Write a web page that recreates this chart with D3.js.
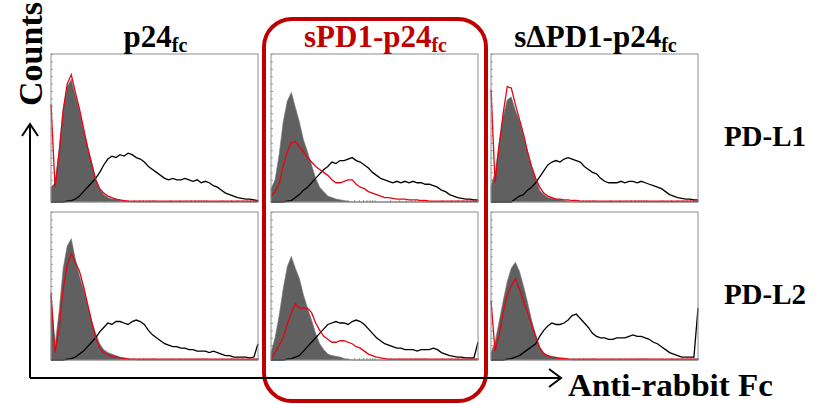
<!DOCTYPE html>
<html>
<head>
<meta charset="utf-8">
<script src="https://cdn.jsdelivr.net/npm/d3@7"></script>
<style>
    body { margin: 0; background: #fff; }
    svg { display: block; }
    text { font-family: "Liberation Serif", "Times New Roman", serif; font-weight: bold; }
</style>
</head>
<body>
<svg id="chart" width="829" height="404"></svg>
<script>
// column titles (main part, subscript) and row labels
const columns = [["p24", "fc"], ["sPD1-p24", "fc"], ["s\u0394PD1-p24", "fc"]];
const rows = ["PD-L1", "PD-L2"];

// counts per channel bin, % of panel height; 52 bins per panel
const isotypeL1 = [
    [10,13,36,63,78,83,72,62,49,38,27,16,9,5,3,2,2,1,1,0.5,0,0,0,0,0,0,0,0,0,0,0,0,0,0,0,0,0,0,0,0,0,0,0,0,0,0,0,0,0,0,0,0],
    [9,15,32,54,68,74,64,54,42,34,25,16,10,7,4,3,2,1.5,1,0.5,0,0,0,0,0,0,0,0,0,0,0,0,0,0,0,0,0,0,0,0,0,0,0,0,0,0,0,0,0,0,0,0],
    [11,20,40,58,69,71,62,55,45,34,24,16,8,5,3,2.5,2,1.5,1,0.5,0,0,0,0,0,0,0,0,0,0,0,0,0,0,0,0,0,0,0,0,0,0,0,0,0,0,0,0,0,0,0,0]
];
const fusionL1 = [
    [66,10,33,62,80,86,74,63,50,37,26,15,9,6,4,3,2,1.5,1,0.5,0.5,0.5,0.5,0.5,0.5,0.5,0.5,0.5,0.5,0.5,0.5,0.5,0.5,0.5,0.5,0.5,0.5,0.5,0.5,0.5,0.5,0.5,0.5,0.5,0.5,0.5,0.5,0.5,0.5,0.5,0.5,0.5],
    [4,7,12,24,34,40,41,37,34,30,27,24,22,20,18,15,13,13,14,15,15,12,10,9,7,6,5,4,3,3,2.5,2,2,2,1.5,1.5,1.5,1,1,0.5,0.5,0.5,0.5,0.5,0.5,0.5,0.5,0.5,0.5,0.5,0.5,0.5],
    [76,13,38,60,78,77,66,56,46,34,24,16,10,6,4,3,2,2,1.5,1.5,1,1,0.5,0.5,0.5,0.5,0.5,0.5,0.5,0.5,0.5,0.5,0.5,0.5,0.5,0.5,0.5,0.5,0.5,0.5,0.5,0.5,0.5,0.5,0.5,0.5,0.5,0.5,0.5,0.5,0.5,0.5]
];
const antibodyL1 = [
    [0,0,0,0,0.5,1,2,4,7,10,13,16,20,25,29,31,30,32,31,33,32,30,29,27,24,22,20,18,16,15,16,15,15,16,15,14,15,13,14,13,11,10,8,6,5,4,3,2.5,2,2,1.5,1],
    [0,0,0,0,0.5,1,3,5,8,10,13,16,19,22,24,27,26,28,28,29,30,28,27,25,23,20,18,16,15,14,13,14,13,14,13,14,13,13,12,12,11,10,8,7,5,4,3,2.5,2,2,1.5,1.5],
    [0,0,0,0,0,0,2,4,5,8,10,13,17,21,25,27,28,27,29,30,29,28,27,24,22,20,19,16,14,13,13,13,14,13,14,14,13,14,13,12,11,10,9,7,5,4,3,2.5,2,2,1.5,1.5]
];
const isotypeL2 = [
    [46,10,33,62,77,82,68,57,48,37,27,18,11,7,5,4,3,2,1.5,1,0.5,0,0,0,0,0,0,0,0,0,0,0,0,0,0,0,0,0,0,0,0,0,0,0,0,0,0,0,0,0,0,0],
    [5,15,30,48,63,70,62,55,44,35,27,18,11,7,4,3,2.5,2,1,0.5,0,0,0,0,0,0,0,0,0,0,0,0,0,0,0,0,0,0,0,0,0,0,0,0,0,0,0,0,0,0,0,0],
    [5,12,26,40,53,62,66,60,50,39,27,17,9,5,3,2.5,2,1.5,1,0.5,0,0,0,0,0,0,0,0,0,0,0,0,0,0,0,0,0,0,0,0,0,0,0,0,0,0,0,0,0,0,0,0]
];
const fusionL2 = [
    [44,5,22,48,64,72,66,60,50,38,26,15,8,5,3.5,2.5,2,1.5,1,0.5,0.5,0.5,0.5,0.5,0.5,0.5,0.5,0.5,0.5,0.5,0.5,0.5,0.5,0.5,0.5,0.5,0.5,0.5,0.5,0.5,0.5,0.5,0.5,0.5,0.5,0.5,0.5,0.5,0.5,0.5,0.5,0.5],
    [1,5,10,15,24,32,38,35,35,35,32,25,20,16,14,12,12,13,13,12,11,9,8,6,4,3,2,1.5,1,0.5,0.5,0.5,0.5,0.5,0.5,0.5,0.5,0.5,0.5,0.5,0.5,0.5,0.5,0.5,0.5,0.5,0.5,0.5,0.5,0.5,0.5,0.5],
    [40,6,17,32,44,50,55,48,40,32,24,16,8,4,3,2,1.5,1,1,0.5,0.5,0.5,0.5,0.5,0.5,0.5,0.5,0.5,0.5,0.5,0.5,0.5,0.5,0.5,0.5,0.5,0.5,0.5,0.5,0.5,0.5,0.5,0.5,0.5,0.5,0.5,0.5,0.5,0.5,0.5,0.5,0.5]
];
const antibodyL2 = [
    [0,0,0,0,0.5,1,2,4,6,9,12,15,19,22,25,24,26,26,25,24,26,27,26,24,20,17,15,13,11,10,9,9,8,8,7,7,6,6,6,5,6,5,4,3,3,2,2,2,2,1.5,2,11],
    [0,0,0,0,0.5,1,2,3,6,9,12,15,18,21,24,25,26,25,25,24,26,27,26,24,21,18,15,13,11,10,9,8,8,7,7,7,6,7,7,7,8,7,5,4,3,2.5,2,2,1.5,1.5,1.5,12],
    [0,0,0,0,0.5,1,2,3,5,7,9,11,16,20,23,25,24,24,25,27,30,31,28,25,22,18,16,15,15,14,14,15,15,15,16,17,16,16,15,14,12,11,9,7,5,4,3,2,2,2,2,35]
];

const panels = [
    [isotypeL1, fusionL1, antibodyL1],
    [isotypeL2, fusionL2, antibodyL2]
];

const svg = d3.select("#chart");
const panelW = 207, panelH = 148;
const colX = [51, 271, 491], rowY = [54, 212];

const x = d3.scaleLinear().domain([0, 51]).range([0, panelW]);
const y = d3.scaleLinear().domain([0, 100]).range([panelH, 0]);
const logX = d3.scaleLog().domain([1, 10000]).range([0, panelW]);

const area = d3.area()
    .x(function (d, i) { return x(i); })
    .y0(panelH)
    .y1(function (d) { return y(d); });
const line = d3.line()
    .x(function (d, i) { return x(i); })
    .y(function (d) { return y(d); });

// highlight box round the middle column
svg.append("rect")
    .attr("x", 264).attr("y", 19).attr("width", 222).attr("height", 382)
    .attr("rx", 28).attr("ry", 28)
    .attr("fill", "none").attr("stroke", "#c00000").attr("stroke-width", 4);

rows.forEach(function (rowName, r) {
    columns.forEach(function (col, c) {
        const g = svg.append("g").attr("transform", "translate(" + colX[c] + "," + rowY[r] + ")");
        g.append("rect").attr("width", panelW).attr("height", panelH).attr("fill", "#fff");

        g.append("g").attr("transform", "translate(0," + panelH + ")")
            .call(d3.axisBottom(logX).tickSize(-2).tickFormat(""))
            .call(function (a) { a.select(".domain").remove(); a.selectAll("line").attr("stroke", "#999"); });
        g.append("g")
            .call(d3.axisLeft(y).ticks(20).tickSize(-2).tickFormat(""))
            .call(function (a) { a.select(".domain").remove(); a.selectAll("line").attr("stroke", "#999"); });

        const set = panels[r];
        g.append("path").datum(set[0][c])
            .attr("d", area).attr("fill", "#606060").attr("stroke", "#777").attr("stroke-width", 0.6);
        g.append("path").datum(set[2][c])
            .attr("d", line).attr("fill", "none").attr("stroke", "#000").attr("stroke-width", 1.3);
        g.append("path").datum(set[1][c])
            .attr("d", line).attr("fill", "none").attr("stroke", "#e30613").attr("stroke-width", 1.3);

        g.append("rect").attr("width", panelW).attr("height", panelH)
            .attr("fill", "none").attr("stroke", "#8c8c8c").attr("stroke-width", 1);
    });
    svg.append("text")
        .attr("x", 765).attr("y", rowY[r] + 92)
        .attr("text-anchor", "middle").attr("font-size", 29)
        .text(rowName);
});

columns.forEach(function (col, c) {
    const t = svg.append("text")
        .attr("x", colX[c] + panelW / 2 + 1).attr("y", 47)
        .attr("text-anchor", "middle").attr("font-size", 31)
        .attr("fill", c === 1 ? "#c00000" : "#000");
    t.append("tspan").text(col[0]);
    t.append("tspan").attr("font-size", 20).attr("dy", 5).text(col[1]);
});

// axes arrows
const arrow = svg.append("g").attr("stroke", "#000").attr("stroke-width", 2).attr("fill", "none");
arrow.append("path").attr("d", "M30,378V124M22,136L30,124L38,136");
arrow.append("path").attr("d", "M30,378H561M549,369L561,378L549,387");

svg.append("text")
    .attr("transform", "translate(42,54) rotate(-90)")
    .attr("text-anchor", "middle").attr("font-size", 34)
    .text("Counts");
svg.append("text")
    .attr("x", 568).attr("y", 396).attr("font-size", 31)
    .attr("textLength", 205).attr("lengthAdjust", "spacingAndGlyphs")
    .text("Anti-rabbit Fc");
</script>
</body>
</html>
